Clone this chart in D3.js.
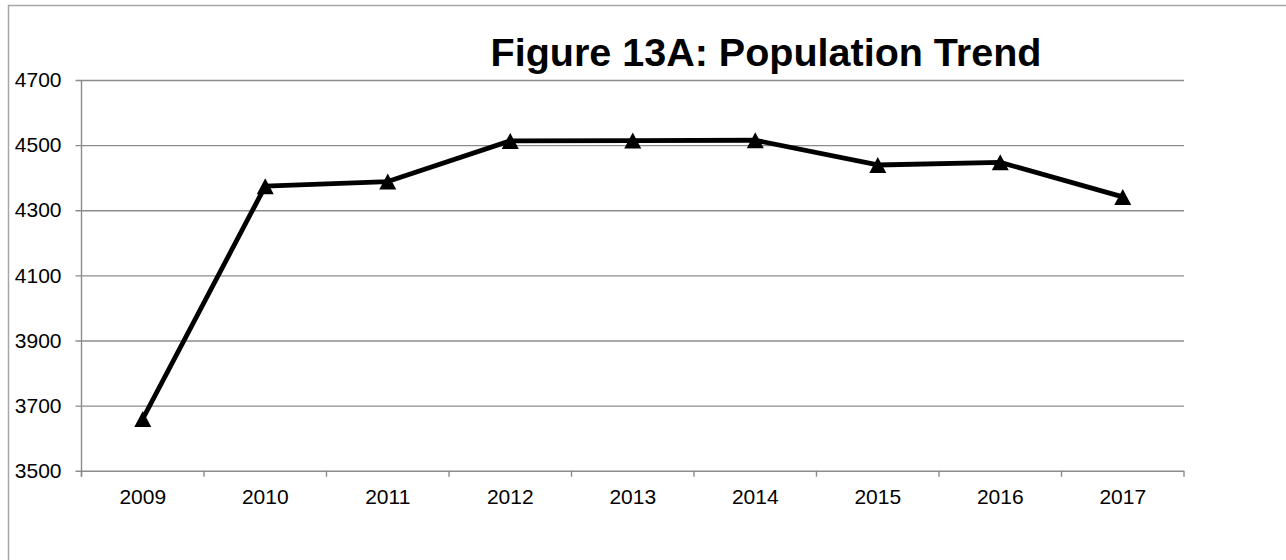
<!DOCTYPE html>
<html>
<head>
<meta charset="utf-8">
<script src="https://cdn.jsdelivr.net/npm/d3@7"></script>
<style>
  html, body { margin: 0; padding: 0; background: #fff; }
  svg { display: block; font-family: Arial, "Liberation Sans", sans-serif; }
</style>
</head>
<body>
<svg id="chart" width="1286" height="560"></svg>
<script>
// Population by year
const years = ["2009", "2010", "2011", "2012", "2013", "2014", "2015", "2016", "2017"];
const population = [3659, 4374, 4388, 4513, 4514, 4515, 4439, 4447, 4341];
const yTicks = [3500, 3700, 3900, 4100, 4300, 4500, 4700];
const titleText = "Figure 13A: Population Trend";

const svg = d3.select("#chart");
const W = 1286, H = 560;
const plot = { left: 81.5, right: 1184, top: 80, bottom: 470.7 };

// Chart frame (extends past the visible canvas on the right and bottom)
svg.append("path")
  .attr("d", `M8.5,${H + 5}V5.5H${W + 5}`)
  .attr("fill", "none")
  .attr("stroke", "#a6a6a6")
  .attr("stroke-width", 1.5);

const x = d3.scaleBand().domain(years).range([plot.left, plot.right]).padding(0);
const y = d3.scaleLinear().domain([3500, 4700]).range([plot.bottom, plot.top]);

// Horizontal gridlines with tick labels on the left
const yAxis = d3.axisLeft(y)
  .tickValues(yTicks)
  .tickSize(-(plot.right - plot.left))
  .tickPadding(14)
  .tickFormat(d3.format("d"));

const gy = svg.append("g")
  .attr("transform", `translate(${plot.left},0)`)
  .call(yAxis);
gy.select(".domain").remove();
gy.selectAll(".tick line")
  .attr("stroke", "#8c8c8c")
  .attr("stroke-width", 1.4)
  .attr("x1", -6);
gy.selectAll(".tick text")
  .attr("fill", "#000")
  .attr("font-size", 21)
  .attr("x", -20);

// Vertical axis line
svg.append("line")
  .attr("x1", plot.left).attr("x2", plot.left)
  .attr("y1", plot.top).attr("y2", plot.bottom + 6)
  .attr("stroke", "#8c8c8c")
  .attr("stroke-width", 1.4);

// Category tick marks at band boundaries
const bounds = years.map(d => x(d)).concat([x(years[years.length - 1]) + x.bandwidth()]);
svg.append("g").selectAll("line")
  .data(bounds)
  .join("line")
  .attr("x1", d => d).attr("x2", d => d)
  .attr("y1", plot.bottom).attr("y2", plot.bottom + 6)
  .attr("stroke", "#8c8c8c")
  .attr("stroke-width", 1.4);

// Category labels
svg.append("g").selectAll("text")
  .data(years)
  .join("text")
  .attr("x", d => x(d) + x.bandwidth() / 2)
  .attr("y", 504)
  .attr("text-anchor", "middle")
  .attr("font-size", 21)
  .attr("fill", "#000")
  .text(d => d);

// Series line
const line = d3.line()
  .x((d, i) => x(years[i]) + x.bandwidth() / 2)
  .y(d => y(d));

svg.append("path")
  .datum(population)
  .attr("d", line)
  .attr("fill", "none")
  .attr("stroke", "#000")
  .attr("stroke-width", 4.8)
  .attr("stroke-linejoin", "round");

// Triangle markers
const tri = "M0,-8L8.5,8L-8.5,8Z";
svg.append("g").selectAll("path")
  .data(population)
  .join("path")
  .attr("transform", (d, i) => `translate(${x(years[i]) + x.bandwidth() / 2},${y(d)})`)
  .attr("d", tri)
  .attr("fill", "#000");

// Title
svg.append("text")
  .attr("x", 766)
  .attr("y", 66)
  .attr("text-anchor", "middle")
  .attr("font-size", 39.5)
  .attr("font-weight", "bold")
  .attr("fill", "#000")
  .text(titleText);
</script>
</body>
</html>
